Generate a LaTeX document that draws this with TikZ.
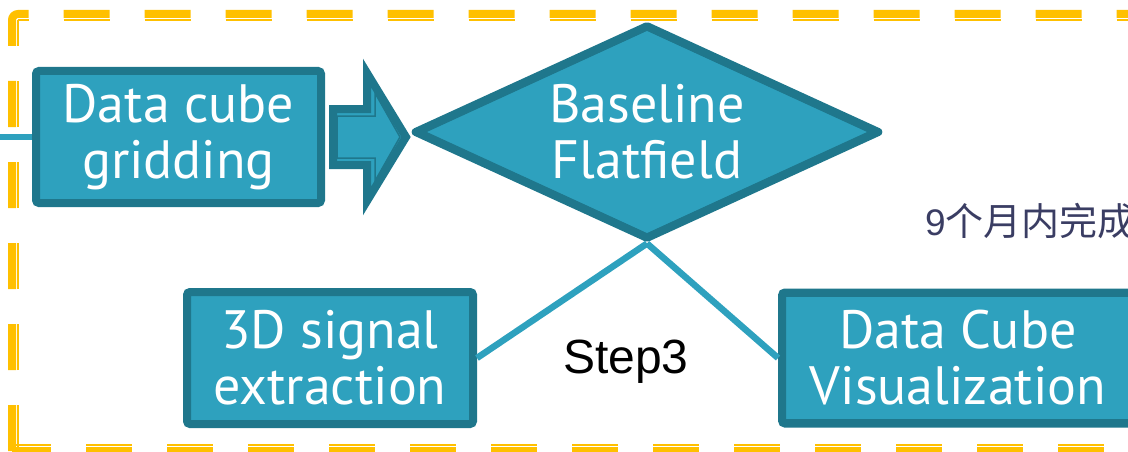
\documentclass[tikz,border=0pt]{standalone}
\usepackage{fontspec}
\setsansfont{PT Sans}
\newfontfamily\labelfont{Liberation Sans}
\newfontfamily\cjkfont{Noto Sans CJK SC}
\usetikzlibrary{shapes.geometric}

\definecolor{boxfill}{RGB}{46,161,190}
\definecolor{boxline}{RGB}{31,119,140}
\definecolor{framegold}{RGB}{255,192,0}
\definecolor{notecolor}{RGB}{58,61,99}

\tikzset{
    stepbox/.style={draw=boxline, line width=8pt, fill=boxfill, rounded corners=3pt,
        inner sep=0pt, text=white, align=center,
        font=\sffamily\fontsize{54}{56}\selectfont},
    innerline/.style={draw=boxline, line width=1.5pt},
    link/.style={draw=boxfill, line width=6.5pt},
    framethick/.style={draw=framegold, line width=8pt, dash pattern=on 46pt off 35pt},
    framethin/.style={draw=framegold, line width=2pt, dash pattern=on 46pt off 35pt},
}

\begin{document}
\begin{tikzpicture}[x=1pt, y=1pt]
    \useasboundingbox (0,0) rectangle (1128,451);
    \clip (0,0) rectangle (1128,451);

    % Frame
    \draw[framethick, rounded corners=6pt] (12,0) -- (12,437) -- (1160,437);
    \draw[framethick, dash phase=7pt] (12,0) -- (1160,0);
    \draw[framethin] (18,0) -- (18,431);
    \draw[framethin, dash phase=35.4pt] (18,431) -- (1160,431);
    \draw[framethin, dash phase=7pt] (12,6) -- (1160,6);

    % Nodes
    \coordinate (feed) at (0,314);
    \node[stepbox, minimum width=285pt, minimum height=132pt] (grid) at (178.5,314) {Data cube\\gridding};
    \node[stepbox, diamond, aspect=2.2, rounded corners=0pt, line join=round, minimum width=466pt, minimum height=215pt] (flat) at (647,319) {Baseline\\Flatfield};
    \node[stepbox, minimum width=286pt, minimum height=132pt] (extract) at (330,93) {3D signal\\extraction};
    \node[stepbox, minimum width=352pt, minimum height=131pt] (visual) at (958,93) {Data Cube\\Visualization};
    \node[anchor=base west, inner sep=0pt, text=notecolor, font=\cjkfont\fontsize{38}{40}\selectfont] (note) at (925,216) {{\labelfont\fontsize{37}{40}\selectfont 9}个月内完成};
    \node[anchor=base west, inner sep=0pt, font=\labelfont\fontsize{48}{52}\selectfont] (steplabel) at (563,78) {Step3};

    % thin inner rims
    \draw[innerline] ([shift={(7.5,-7.5)}]grid.north west) rectangle ([shift={(-7.5,7.5)}]grid.south east);
    \draw[innerline] ([shift={(7.5,-7.5)}]extract.north west) rectangle ([shift={(-7.5,7.5)}]extract.south east);
    \draw[innerline] ([shift={(7.5,-7.5)}]visual.north west) rectangle ([shift={(-7.5,7.5)}]visual.south east);
    \draw[innerline] ([xshift=15]flat.west) -- ([yshift=-9.5]flat.north) -- ([xshift=-15]flat.east) -- ([yshift=9.5]flat.south) -- cycle;

    % Block arrow
    \draw[draw=boxline, fill=boxfill, line width=8pt, shift={(grid.east)}]
        (8,28) -- (42,28) -- (42,64) -- (81,0) -- (42,-64) -- (42,-28) -- (8,-28) -- cycle;
    \draw[innerline, shift={(grid.east)}]
        (12,21) -- (50,21) -- (50,44) -- (75,0) -- (50,-44) -- (50,-21) -- (12,-21) -- cycle;

    % Links
    \draw[link] (feed) -- (grid);
    \draw[link] (flat.south) -- (extract.east);
    \draw[link] (flat.south) -- (visual.west);
\end{tikzpicture}
\end{document}
